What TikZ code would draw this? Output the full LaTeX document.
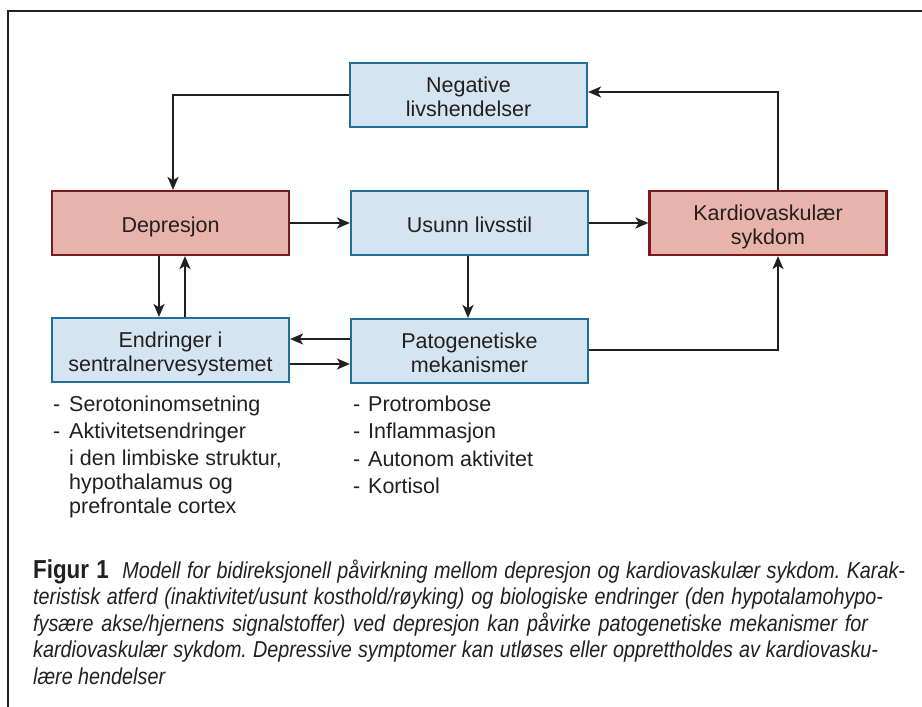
\documentclass[tikz,border=0pt]{standalone}
\usepackage{fontspec}
\setmainfont{Liberation Sans}
\newfontfamily\capfont[FakeStretch=0.86]{Liberation Sans}
\usetikzlibrary{arrows.meta}
\definecolor{bfill}{HTML}{D5E4F1}
\definecolor{bdraw}{HTML}{1F6F98}
\definecolor{rfill}{HTML}{E8B3AB}
\definecolor{rdraw}{HTML}{7A1A1C}
\definecolor{txt}{HTML}{231F20}
\newcommand{\bxt}[1]{\raisebox{-4.5pt}[\height][\depth]{\begin{tabular}{@{}c@{}}#1\end{tabular}}}
\frenchspacing
\begin{document}
\begin{tikzpicture}[x=1pt,y=-1pt,
  box/.style={line width=2.2pt, minimum width=237pt, minimum height=64pt, align=center,
    font=\fontsize{21.5}{23.8}\selectfont, text=txt, inner sep=0pt},
  bluebox/.style={box, fill=bfill, draw=bdraw},
  redbox/.style={box, fill=rfill, draw=rdraw},
  conn/.style={line width=2.5pt, draw=txt, -{Stealth[length=13pt,width=11pt,inset=3.5pt]}},
  li/.style={anchor=base west, inner sep=0pt, font=\fontsize{21.5}{24}\selectfont, text=txt},
  capline/.style={anchor=base west, inner sep=0pt, font=\capfont\fontsize{23}{26.7}\selectfont, text=txt}
]
\useasboundingbox (0,0) rectangle (922,707);
\draw[line width=2.2pt, txt] (8,710) -- (8,11) -- (925,11);

\node[bluebox] (neg) at (468.5,95) {\bxt{Negative\\livshendelser}};
\node[redbox]  (dep) at (170.5,223) {\bxt{Depresjon}};
\node[bluebox] (usu) at (469.5,223) {\bxt{Usunn livsstil}};
\node[redbox]  (kar) at (768,223) {\bxt{Kardiovaskulær\\sykdom}};
\node[bluebox] (end) at (170.5,350) {\bxt{Endringer i\\sentralnervesystemet}};
\node[bluebox] (pat) at (469.5,351) {\bxt{Patogenetiske\\mekanismer}};

\draw[conn] (neg.west) -| ([xshift=2.5pt]dep.north);
\draw[conn] ([xshift=10pt]kar.north) |- ([yshift=3pt]neg.east);
\draw[conn] (dep.east) -- (usu.west);
\draw[conn] (usu.east) -- (kar.west);
\draw[conn] ([xshift=-1.5pt]usu.south) -- ([xshift=-1.5pt]pat.north);
\draw[conn] ([xshift=-11.5pt]dep.south) -- ([xshift=-11.5pt]end.north);
\draw[conn] ([xshift=14.5pt]end.north) -- ([xshift=14.5pt]dep.south);
\draw[conn] ([yshift=12pt]pat.west) -- ([yshift=12pt]pat.west -| end.east);
\draw[conn] ([yshift=-14pt]end.east) -- ([yshift=-14pt]end.east -| pat.west);
\draw[conn] ([yshift=1pt]pat.east) -| ([xshift=10pt]kar.south);

% left list
\node[li] (l1d) at (53,411) {-};
\node[li] (l1) at (69,411) {Serotoninomsetning};
\node[li] (l2d) at (53,438) {-};
\node[li] (l2) at (69,438) {Aktivitetsendringer};
\node[li] (l3) at (69,465) {i den limbiske struktur,};
\node[li] (l4) at (69,489) {hypothalamus og};
\node[li] (l5) at (69,513) {prefrontale cortex};
% right list
\node[li] (r1d) at (353,411) {-};
\node[li] (r1) at (368,411) {Protrombose};
\node[li] (r2d) at (353,438) {-};
\node[li] (r2) at (368,438) {Inflammasjon};
\node[li] (r3d) at (353,466) {-};
\node[li] (r3) at (368,466) {Autonom aktivitet};
\node[li] (r4d) at (353,493) {-};
\node[li] (r4) at (368,493) {Kortisol};

% caption
\node[capline] (c1) at (33,578) {\makebox[872pt][s]{{\fontsize{26}{26.7}\selectfont\bfseries Figur 1}\hspace{7pt} \itshape Modell for bidireksjonell påvirkning mellom depresjon og kardiovaskulær sykdom. Karak-}};
\node[capline] (c2) at (33,604.5) {\makebox[850pt][s]{\itshape teristisk atferd (inaktivitet/usunt kosthold/røyking) og biologiske endringer (den hypotalamohypo-}};
\node[capline] (c3) at (33,631) {\makebox[835pt][s]{\itshape fysære akse/hjernens signalstoffer) ved depresjon kan påvirke patogenetiske mekanismer for}};
\node[capline] (c4) at (33,657.5) {\makebox[845pt][s]{\itshape kardiovaskulær sykdom. Depressive symptomer kan utløses eller opprettholdes av kardiovasku-}};
\node[capline] (c5) at (33,684) {\itshape lære hendelser};
\end{tikzpicture}
\end{document}
